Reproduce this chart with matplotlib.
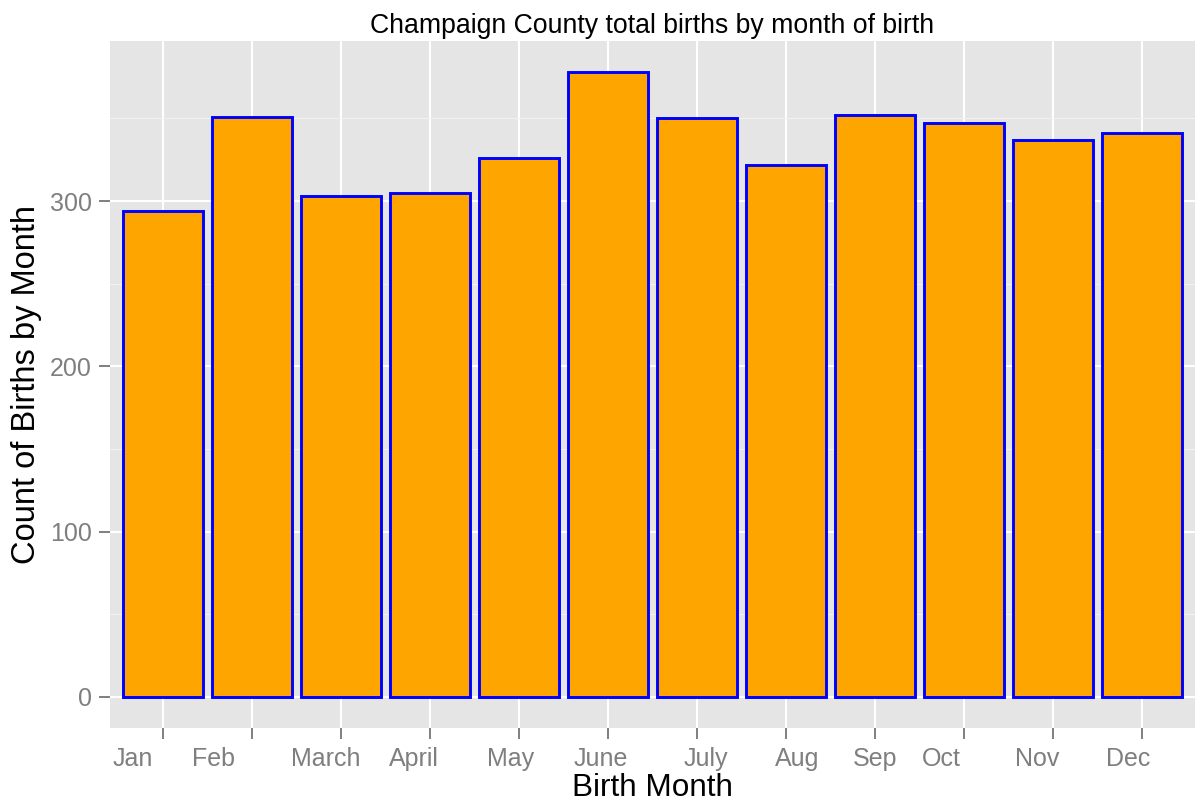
import matplotlib
matplotlib.use("Agg")
import matplotlib.pyplot as plt
from matplotlib.transforms import ScaledTranslation
from matplotlib.ticker import MultipleLocator

MONTHS = ["Jan", "Feb", "March", "April", "May", "June",
          "July", "Aug", "Sep", "Oct", "Nov", "Dec"]
BIRTHS = [294, 351, 303, 305, 326, 378, 350, 322, 352, 347, 337, 341]

# the month labels sit a little off their ticks in the original (points)
LABEL_SHIFT_PT = [-22, -28, -11.5, -11.5, -6, -5.5, 6.5, 8.3, 0, -16.5, -11, -9.5]

plt.rcParams["font.family"] = ["Liberation Sans", "DejaVu Sans"]

fig = plt.figure(figsize=(12.01, 8.05), dpi=100)
ax = fig.add_axes([110 / 1201, 1 - 728 / 805, 1085 / 1201, 687 / 805])
ax.set_facecolor("#E5E5E5")

x = list(range(1, len(MONTHS) + 1))
ax.bar(x, BIRTHS, width=0.9, color="#FFA500", edgecolor="#0000FF",
       linewidth=2.1, zorder=3)

top = max(BIRTHS)
ax.set_ylim(-0.05 * top, 1.05 * top)
ax.set_xlim(0.4, len(MONTHS) + 0.6)

ax.yaxis.set_major_locator(MultipleLocator(100))
ax.yaxis.set_minor_locator(MultipleLocator(50))
ax.grid(which="major", axis="both", color="white", linewidth=1.5, zorder=0)
ax.grid(which="minor", axis="y", color="#F2F2F2", linewidth=0.8, zorder=0)
ax.set_axisbelow(True)

ax.set_xticks(x)
ax.set_xticklabels(MONTHS)
ax.tick_params(axis="both", which="major", length=8, width=1.4,
               color="#7F7F7F", labelcolor="#7F7F7F", labelsize=18, pad=5)
ax.tick_params(axis="x", which="major", pad=6)
ax.tick_params(axis="y", which="minor", length=0)

for lab, dx in zip(ax.get_xticklabels(), LABEL_SHIFT_PT):
    lab.set_transform(lab.get_transform() + ScaledTranslation(dx / 72, 0, fig.dpi_scale_trans))

for side in ax.spines.values():
    side.set_visible(False)

ax.set_title("Champaign County total births by month of birth", fontsize=19.2, pad=6)
ax.set_xlabel("Birth Month", fontsize=22.7, labelpad=1)
ax.set_ylabel("Count of Births by Month", fontsize=23.5, labelpad=6)

fig.savefig("out.png", dpi=100)
